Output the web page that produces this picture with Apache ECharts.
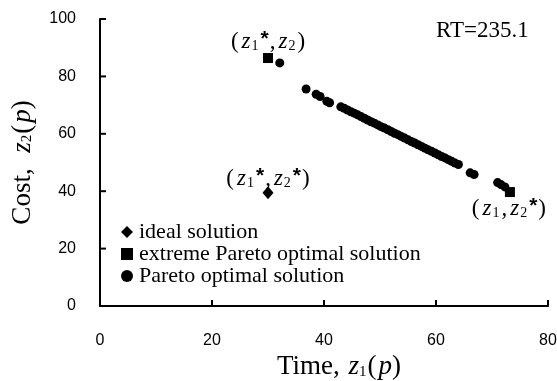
<!DOCTYPE html>
<html>
<head>
<meta charset="utf-8">
<script src="https://cdn.jsdelivr.net/npm/echarts@6/dist/echarts.min.js"></script>
<style>html,body{margin:0;padding:0;background:#fff}#c{width:557px;height:381px}</style>
</head>
<body>
<div id="c"></div>
<script>
// ---- data ----
const xTicks = [0, 20, 40, 60, 80];
const yTicks = [0, 20, 40, 60, 80, 100];
const idealPoint = [[30.0, 39.5]];
const extremePoints = [[30.0, 86.4], [73.2, 39.7]];
const paretoX = [32.1, 36.8, 38.6, 39.3, 40.5, 41.0,
  43.0, 43.6, 44.2, 44.8, 45.4, 46.0, 46.6, 47.2, 47.8, 48.4, 49.0, 49.6, 50.2, 50.8,
  51.4, 52.0, 52.6, 53.2, 53.8, 54.4, 55.0, 55.6, 56.2, 56.8, 57.4, 58.0, 58.6, 59.2,
  59.8, 60.4, 61.0, 61.6, 62.2, 62.8, 63.4, 64.0,
  66.1, 66.8, 71.0, 71.6, 72.3];
const paretoY = [84.7, 75.6, 73.8, 73.0, 71.3, 70.8,
  69.4, 68.9, 68.3, 67.7, 67.2, 66.6, 66.0, 65.4, 64.8, 64.2, 63.7, 63.1, 62.5, 62.0,
  61.4, 60.8, 60.2, 59.7, 59.1, 58.5, 57.9, 57.3, 56.8, 56.2, 55.6, 55.0, 54.4, 53.9,
  53.3, 52.7, 52.1, 51.6, 51.0, 50.4, 49.8, 49.3,
  46.4, 45.8, 43.0, 42.3, 41.5];
const legendNames = ['ideal solution', 'extreme Pareto optimal solution', 'Pareto optimal solution'];
const rtLabel = 'RT=235.1';

const serif = '"Liberation Serif", "DejaVu Serif", serif';
const sans = '"Liberation Sans", Arial, sans-serif';
const richZ = {
  p: {fontFamily: serif, fontSize: 23, color: '#000', padding: [0, 1, 0, 1]},
  z: {fontFamily: serif, fontSize: 23, fontStyle: 'italic', color: '#000', padding: [0, 1, 0, 2]},
  s: {fontFamily: serif, fontSize: 14, color: '#000', padding: [8, 1, 0, 0]},
  st: {fontFamily: sans, fontSize: 21, fontWeight: 'bold', color: '#000', padding: [0, 0, 5, 1]}
};
const nameRich = {
  t: {fontFamily: serif, fontSize: 27, color: '#000'},
  z: {fontFamily: serif, fontSize: 27, fontStyle: 'italic', color: '#000', padding: [0, 0, 0, 2]},
  s: {fontFamily: serif, fontSize: 15, color: '#000', padding: [9, 1, 0, 0]}
};

const chart = echarts.init(document.getElementById('c'));
chart.setOption({
  animation: false,
  backgroundColor: '#fff',
  title: {
    text: rtLabel, left: 431, top: 14,
    textStyle: {fontFamily: serif, fontSize: 23, fontWeight: 'normal', color: '#000'}
  },
  grid: {left: 100, right: 9, top: 19, bottom: 75, containLabel: false, outerBoundsMode: 'none'},
  legend: {
    orient: 'vertical', left: 116, top: 216, itemGap: 0, itemWidth: 12, itemHeight: 12,
    data: legendNames,
    textStyle: {fontFamily: serif, fontSize: 22, color: '#000', padding: [0, 0, 0, 1]}
  },
  xAxis: {
    type: 'value', min: 0, max: 80, interval: 20,
    name: '{t|Time, }{z|z}{s|1}{t|(}{z|p}{t|)}',
    nameLocation: 'middle', nameGap: 43,
    nameTextStyle: {rich: nameRich, padding: [0, 0, 0, 30]},
    axisLine: {show: true, lineStyle: {color: '#000', width: 2}},
    axisTick: {show: false},
    axisLabel: {margin: 27, fontFamily: sans, fontSize: 16, color: '#000',
      formatter: v => xTicks.includes(v) ? String(v) : ''},
    splitLine: {show: false}
  },
  yAxis: {
    type: 'value', min: 0, max: 100, interval: 20,
    name: '{t|Cost,  }{z|z}{s|2}{t|(}{z|p}{t|)}',
    nameLocation: 'middle', nameGap: 64,
    nameTextStyle: {rich: nameRich},
    axisLine: {show: true, lineStyle: {color: '#000', width: 2}},
    axisTick: {show: false},
    axisLabel: {margin: 24, fontFamily: sans, fontSize: 16, color: '#000',
      formatter: v => yTicks.includes(v) ? String(v) : ''},
    splitLine: {show: false}
  },
  series: [
    {
      name: legendNames[2], type: 'scatter', symbol: 'circle', symbolSize: 9,
      itemStyle: {color: '#000', opacity: 1},
      data: paretoX.map((x, i) => [x, paretoY[i]])
    },
    {
      name: legendNames[1], type: 'scatter', symbol: 'rect', symbolSize: 10,
      itemStyle: {color: '#000', opacity: 1},
      data: [
        {value: extremePoints[0], label: {show: true, position: 'top', distance: -2,
          formatter: '{p|(}{z|z}{s|1}{st|*}{p|,}{z|z}{s|2}{p|)}', rich: richZ}},
        {value: extremePoints[1], label: {show: true, position: 'bottom', distance: -1, offset: [-1, 0],
          formatter: '{p|(}{z|z}{s|1}{p|,}{z|z}{s|2}{st|*}{p|)}', rich: richZ}}
      ]
    },
    {
      name: legendNames[0], type: 'scatter', symbol: 'diamond', symbolSize: [11, 13],
      itemStyle: {color: '#000', opacity: 1},
      data: [
        {value: idealPoint[0], label: {show: true, position: 'top', distance: -6,
          formatter: '{p|(}{z|z}{s|1}{st|*}{p|,}{z|z}{s|2}{st|*}{p|)}', rich: richZ}}
      ]
    }
  ]
});

// inward axis ticks, positioned through the chart's own scales
const tickLines = [];
xTicks.forEach(v => {
  const p = chart.convertToPixel({gridIndex: 0}, [v, 0]);
  tickLines.push({type: 'line', shape: {x1: p[0], y1: p[1], x2: p[0], y2: p[1] - 6},
    style: {stroke: '#000', lineWidth: 2}, z: 100});
});
yTicks.forEach(v => {
  const p = chart.convertToPixel({gridIndex: 0}, [0, v]);
  tickLines.push({type: 'line', shape: {x1: p[0], y1: p[1], x2: p[0] + 6, y2: p[1]},
    style: {stroke: '#000', lineWidth: 2}, z: 100});
});
chart.setOption({graphic: tickLines});
</script>
</body>
</html>
